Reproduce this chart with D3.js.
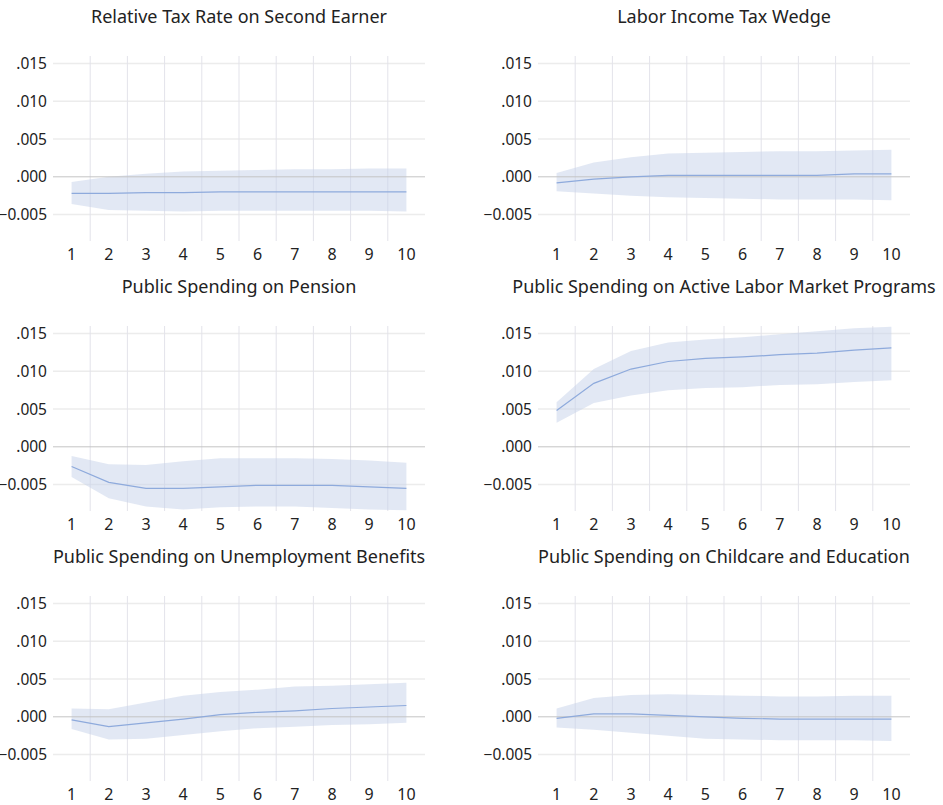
<!DOCTYPE html>
<html>
<head>
<meta charset="utf-8">
<script src="https://cdn.jsdelivr.net/npm/d3@7"></script>
<style>
  html, body { margin: 0; padding: 0; background: #fff; }
  svg text { font-family: "Noto Sans", "Open Sans", sans-serif; fill: #222; }
</style>
</head>
<body>
<svg id="chart" width="943" height="805"></svg>
<script>
// Impulse-response style panels: point estimate with confidence band over 10 periods
const periods = [1, 2, 3, 4, 5, 6, 7, 8, 9, 10];
const yTicks = [-0.005, 0, 0.005, 0.010, 0.015];

const titles = [
  "Relative Tax Rate on Second Earner",
  "Labor Income Tax Wedge",
  "Public Spending on Pension",
  "Public Spending on Active Labor Market Programs",
  "Public Spending on Unemployment Benefits",
  "Public Spending on Childcare and Education"
];

// Relative Tax Rate on Second Earner
const taxSecondMid   = [-0.0022, -0.0022, -0.0021, -0.0021, -0.0020, -0.0020, -0.0020, -0.0020, -0.0020, -0.0020];
const taxSecondUpper = [-0.0007, 0.0000, 0.0004, 0.0007, 0.0008, 0.0009, 0.0010, 0.0010, 0.0011, 0.0011];
const taxSecondLower = [-0.0036, -0.0044, -0.0045, -0.0046, -0.0045, -0.0045, -0.0045, -0.0045, -0.0045, -0.0046];

// Labor Income Tax Wedge
const wedgeMid   = [-0.0008, -0.0003, 0.0000, 0.0002, 0.0002, 0.0002, 0.0002, 0.0002, 0.0004, 0.0004];
const wedgeUpper = [0.0005, 0.0019, 0.0026, 0.0031, 0.0032, 0.0033, 0.0034, 0.0034, 0.0035, 0.0036];
const wedgeLower = [-0.0019, -0.0022, -0.0025, -0.0027, -0.0028, -0.0029, -0.0030, -0.0030, -0.0030, -0.0031];

// Public Spending on Pension
const pensionMid   = [-0.0026, -0.0047, -0.0055, -0.0055, -0.0053, -0.0051, -0.0051, -0.0051, -0.0053, -0.0055];
const pensionUpper = [-0.0012, -0.0023, -0.0024, -0.0019, -0.0015, -0.0015, -0.0015, -0.0016, -0.0018, -0.0021];
const pensionLower = [-0.0040, -0.0068, -0.0079, -0.0083, -0.0080, -0.0079, -0.0079, -0.0081, -0.0083, -0.0084];

// Public Spending on Active Labor Market Programs
const almpMid   = [0.0048, 0.0084, 0.0103, 0.0113, 0.0117, 0.0119, 0.0122, 0.0124, 0.0128, 0.0131];
const almpUpper = [0.0059, 0.0103, 0.0127, 0.0138, 0.0142, 0.0145, 0.0149, 0.0153, 0.0157, 0.0159];
const almpLower = [0.0032, 0.0058, 0.0068, 0.0075, 0.0078, 0.0079, 0.0082, 0.0083, 0.0086, 0.0088];

// Public Spending on Unemployment Benefits
const unempMid   = [-0.0004, -0.0013, -0.0008, -0.0003, 0.0003, 0.0006, 0.0008, 0.0011, 0.0013, 0.0015];
const unempUpper = [0.0011, 0.0010, 0.0019, 0.0028, 0.0033, 0.0036, 0.0040, 0.0041, 0.0043, 0.0045];
const unempLower = [-0.0016, -0.0030, -0.0029, -0.0024, -0.0019, -0.0015, -0.0013, -0.0011, -0.0010, -0.0008];

// Public Spending on Childcare and Education
const childMid   = [-0.0002, 0.0004, 0.0004, 0.0002, 0.0000, -0.0002, -0.0003, -0.0003, -0.0003, -0.0003];
const childUpper = [0.0011, 0.0025, 0.0029, 0.0030, 0.0029, 0.0028, 0.0027, 0.0027, 0.0028, 0.0028];
const childLower = [-0.0014, -0.0017, -0.0021, -0.0025, -0.0029, -0.0030, -0.0031, -0.0031, -0.0031, -0.0032];

const panels = [
  { title: titles[0], mid: taxSecondMid, upper: taxSecondUpper, lower: taxSecondLower },
  { title: titles[1], mid: wedgeMid,     upper: wedgeUpper,     lower: wedgeLower },
  { title: titles[2], mid: pensionMid,   upper: pensionUpper,   lower: pensionLower },
  { title: titles[3], mid: almpMid,      upper: almpUpper,      lower: almpLower },
  { title: titles[4], mid: unempMid,     upper: unempUpper,     lower: unempLower },
  { title: titles[5], mid: childMid,     upper: childUpper,     lower: childLower }
];

const svg = d3.select("#chart");

const colLeft = [53, 538];   // left edge of each column's plot area
const plotW = 372;
const rowTop = 0, rowH = 270;
const plotTop = 56, plotBottom = 241;

const tickFmt = v => {
  const s = d3.format(".3f")(v);
  return s.replace(/^(-?)0\./, "$1.");
};

panels.forEach((p, i) => {
  const col = i % 2, row = Math.floor(i / 2);
  const g = svg.append("g")
    .attr("transform", `translate(${colLeft[col]},${rowTop + row * rowH})`);

  const xBand = d3.scaleBand().domain(periods).range([0, plotW]).padding(0);
  const xPos = d => xBand(d) + xBand.bandwidth() / 2;
  const y = d3.scaleLinear().domain([-0.0085, 0.016]).range([plotBottom, plotTop]);

  // horizontal gridlines
  g.append("g").selectAll("line").data(yTicks.filter(t => t !== 0)).join("line")
    .attr("x1", 0).attr("x2", plotW)
    .attr("y1", d => y(d)).attr("y2", d => y(d))
    .attr("stroke", "#ececec").attr("stroke-width", 1.5);

  // vertical gridlines at period boundaries
  g.append("g").selectAll("line").data(periods.slice(1)).join("line")
    .attr("x1", d => xBand(d)).attr("x2", d => xBand(d))
    .attr("y1", plotTop).attr("y2", plotBottom)
    .attr("stroke", "#e3e3ea").attr("stroke-width", 1);

  // y axis labels
  const yAxis = d3.axisLeft(y).tickValues(yTicks).tickFormat(tickFmt).tickSize(0).tickPadding(6);
  const ya = g.append("g").call(yAxis);
  ya.select(".domain").remove();
  ya.selectAll("text").attr("font-size", 15.5).attr("fill", "#222")
    .style("font-family", "'Noto Sans', sans-serif");

  // x axis labels
  const xAxis = d3.axisBottom(xBand).tickSize(0).tickPadding(8);
  const xa = g.append("g").attr("transform", `translate(0,${plotBottom})`).call(xAxis);
  xa.select(".domain").remove();
  xa.selectAll("text").attr("font-size", 16).attr("fill", "#222")
    .style("font-family", "'Noto Sans', sans-serif");

  // confidence band
  const area = d3.area()
    .x((d, k) => xPos(periods[k]))
    .y0((d, k) => y(p.lower[k]))
    .y1((d, k) => y(p.upper[k]));
  g.append("path").datum(p.mid).attr("d", area)
    .attr("fill", "#c5d1ea").attr("fill-opacity", 0.5);

  // zero line
  g.append("line").attr("x1", 0).attr("x2", plotW)
    .attr("y1", y(0)).attr("y2", y(0))
    .attr("stroke", "#c4c4c4").attr("stroke-width", 1);

  // point estimate
  const line = d3.line().x((d, k) => xPos(periods[k])).y(d => y(d));
  g.append("path").datum(p.mid).attr("d", line)
    .attr("fill", "none").attr("stroke", "#8eaadc").attr("stroke-width", 1.2);

  // panel title
  g.append("text").attr("x", plotW / 2).attr("y", 23)
    .attr("text-anchor", "middle").attr("font-size", 18)
    .text(p.title);
});
</script>
</body>
</html>
